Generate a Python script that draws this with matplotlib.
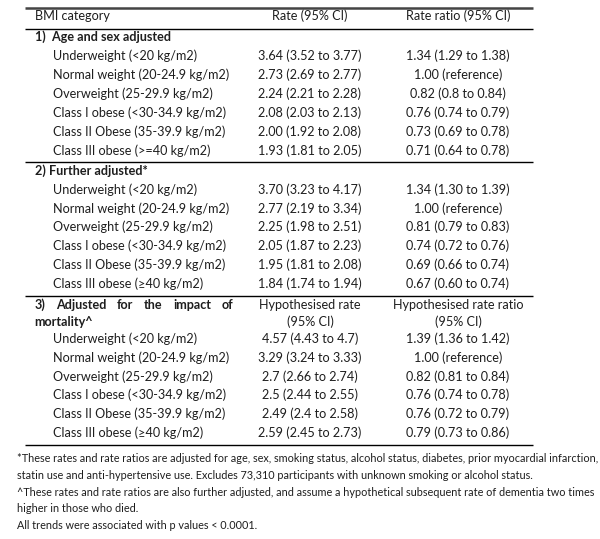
import matplotlib
matplotlib.use("Agg")
import matplotlib.pyplot as plt

plt.rcParams['font.family'] = ['Lato', 'DejaVu Sans']

# table content
categories = ["Underweight (<20 kg/m2)", "Normal weight (20-24.9 kg/m2)",
              "Overweight (25-29.9 kg/m2)", "Class I obese (<30-34.9 kg/m2)",
              "Class II Obese (35-39.9 kg/m2)"]
last_cat = ["Class III obese (>=40 kg/m2)", "Class III obese (\u226540 kg/m2)",
            "Class III obese (\u226540 kg/m2)"]

rate_1 = ["3.64 (3.52 to 3.77)", "2.73 (2.69 to 2.77)", "2.24 (2.21 to 2.28)",
          "2.08 (2.03 to 2.13)", "2.00 (1.92 to 2.08)", "1.93 (1.81 to 2.05)"]
ratio_1 = ["1.34 (1.29 to 1.38)", "1.00 (reference)", "0.82 (0.8 to 0.84)",
           "0.76 (0.74 to 0.79)", "0.73 (0.69 to 0.78)", "0.71 (0.64 to 0.78)"]
rate_2 = ["3.70 (3.23 to 4.17)", "2.77 (2.19 to 3.34)", "2.25 (1.98 to 2.51)",
          "2.05 (1.87 to 2.23)", "1.95 (1.81 to 2.08)", "1.84 (1.74 to 1.94)"]
ratio_2 = ["1.34 (1.30 to 1.39)", "1.00 (reference)", "0.81 (0.79 to 0.83)",
           "0.74 (0.72 to 0.76)", "0.69 (0.66 to 0.74)", "0.67 (0.60 to 0.74)"]
rate_3 = ["4.57 (4.43 to 4.7)", "3.29 (3.24 to 3.33)", "2.7 (2.66 to 2.74)",
          "2.5 (2.44 to 2.55)", "2.49 (2.4 to 2.58)", "2.59 (2.45 to 2.73)"]
ratio_3 = ["1.39 (1.36 to 1.42)", "1.00 (reference)", "0.82 (0.81 to 0.84)",
           "0.76 (0.74 to 0.78)", "0.76 (0.72 to 0.79)", "0.79 (0.73 to 0.86)"]

headers = ["BMI category", "Rate (95% CI)", "Rate ratio (95% CI)"]
sections = ["1)  Age and sex adjusted", "2) Further adjusted*",
            "3) Adjusted for the impact of"]
sec3_line2 = "mortality^"
sec3_cols = [["Hypothesised rate", "(95% CI)"], ["Hypothesised rate ratio", "(95% CI)"]]

footnotes = [
    "*These rates and rate ratios are adjusted for age, sex, smoking status, alcohol status, diabetes, prior myocardial infarction,",
    "statin use and anti-hypertensive use. Excludes 73,310 participants with unknown smoking or alcohol status.",
    "^These rates and rate ratios are also further adjusted, and assume a hypothetical subsequent rate of dementia two times",
    "higher in those who died.",
    "All trends were associated with p values < 0.0001.",
]

rates = [rate_1, rate_2, rate_3]
ratios = [ratio_1, ratio_2, ratio_3]

fig = plt.figure(figsize=(6, 5.39), dpi=100)
ax = fig.add_axes([0, 0, 1, 1])
ax.set_xlim(0, 600)
ax.set_ylim(539, 0)
ax.axis("off")
renderer = fig.canvas.get_renderer()

col = "#1e1e1e"
fs = 9.1
x0, x1 = 25, 533
x_sec, x_lab, x_rate, x_ratio = 35, 53, 310, 458
step = 18.9

def hline(y, lw=1.0, c="black"):
    ax.plot([x0, x1], [y, y], color=c, lw=lw, solid_capstyle="butt")

def justified(text, xa, xb, y):
    # spread the words of a bold heading between xa and xb
    words = text.split()
    arts = [ax.text(0, y, w, fontsize=fs, color=col, va="center", weight="bold") for w in words]
    widths = [a.get_window_extent(renderer).width for a in arts]
    gap = ((xb - xa) - sum(widths)) / (len(words) - 1)
    x = xa
    for a, w in zip(arts, widths):
        a.set_x(x)
        x += w + gap

hline(7.5, lw=1.8, c="#444444")
ax.text(x_sec, 16, headers[0], fontsize=fs, color=col, va="center")
ax.text(x_rate, 16, headers[1], fontsize=fs, color=col, va="center", ha="center")
ax.text(x_ratio, 16, headers[2], fontsize=fs, color=col, va="center", ha="center")
hline(28.5)

sec_y = [37, 170.5, 305]
line_y = [161.5, 296, 444.5]
for s in range(3):
    y = sec_y[s]
    if s < 2:
        ax.text(x_sec, y, sections[s], fontsize=fs, color=col, va="center", weight="bold")
        y += step
    else:
        justified(sections[s], x_sec, 233, y)
        ax.text(x_sec - 1, y + 17, sec3_line2, fontsize=fs, color=col, va="center", weight="bold")
        for cx, lines in zip([x_rate, x_ratio], sec3_cols):
            ax.text(cx, y, lines[0], fontsize=fs, color=col, va="center", ha="center")
            ax.text(cx, y + 17, lines[1], fontsize=fs, color=col, va="center", ha="center")
        y += 17 + 16.5
    labels = categories + [last_cat[s]]
    for i in range(6):
        ax.text(x_lab, y, labels[i], fontsize=fs, color=col, va="center")
        ax.text(x_rate, y, rates[s][i], fontsize=fs, color=col, va="center", ha="center")
        ax.text(x_ratio, y, ratios[s][i], fontsize=fs, color=col, va="center", ha="center")
        y += step
    hline(line_y[s])

fy = 458.5
for t in footnotes:
    ax.text(17, fy, t, fontsize=7.8, color=col, va="center")
    fy += 16.8

fig.savefig("out.png", dpi=100, facecolor="white")
